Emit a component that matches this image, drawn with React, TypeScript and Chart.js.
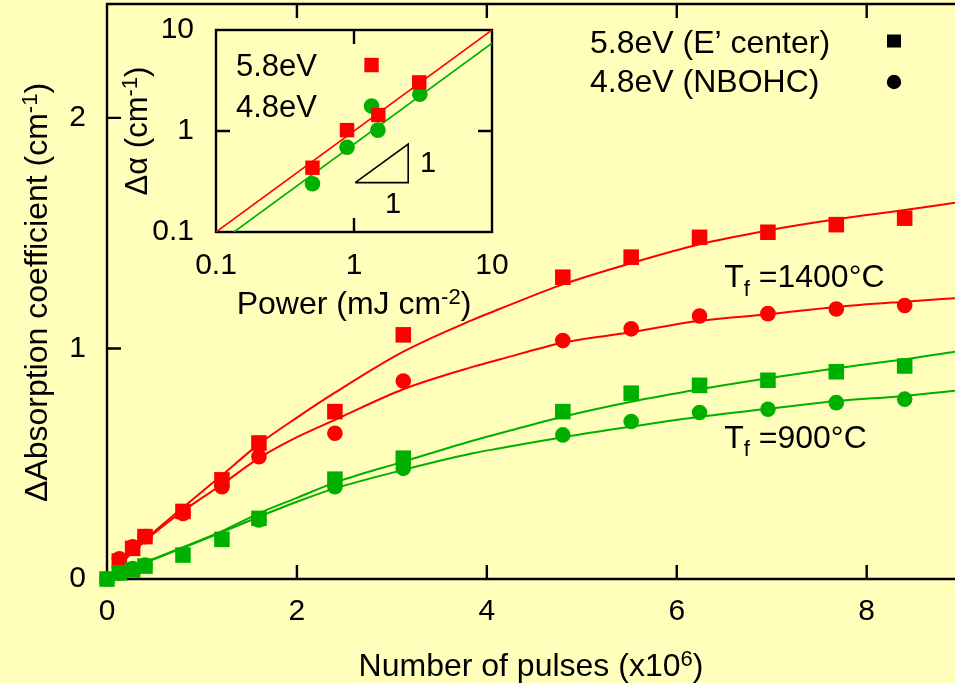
import React, { useEffect, useRef } from "react";
import { Chart, registerables } from "chart.js";
Chart.register(...registerables);

const BG = "#FFFFBB";
const RED = "#FF0000";
const GREEN = "#00B000";
const FONT = "'Liberation Sans', Arial, Helvetica, sans-serif";
const AXIS_W = 2.4;
const TICK = 14;
const LABEL_SIZE = 32;
const INSET_LABEL_SIZE = 31;

// ---------- main plot ----------
const X_MIN = 0;
const X_MAX = 8.93;
const Y_MIN = 0;
const Y_MAX = 2.494;
const xTicks = [0, 2, 4, 6, 8];
const yTicks = [0, 1, 2];

const redSqX = [0.13, 0.27, 0.4, 0.8, 1.21, 1.6, 2.4, 3.12, 4.8, 5.52, 6.24, 6.96, 7.68, 8.4];
const redSqY = [0.078, 0.133, 0.184, 0.293, 0.43, 0.59, 0.726, 1.059, 1.309, 1.396, 1.482, 1.504, 1.537, 1.565];

const redCirX = [0.13, 0.27, 0.4, 0.8, 1.21, 1.6, 2.4, 3.12, 4.8, 5.52, 6.24, 6.96, 7.68, 8.4];
const redCirY = [0.088, 0.14, 0.184, 0.284, 0.4, 0.53, 0.632, 0.859, 1.034, 1.085, 1.141, 1.151, 1.171, 1.186];

const greenSqX = [0, 0.13, 0.27, 0.4, 0.8, 1.21, 1.6, 2.4, 3.12, 4.8, 5.52, 6.24, 6.96, 7.68, 8.4];
const greenSqY = [0, 0.027, 0.039, 0.056, 0.104, 0.172, 0.263, 0.433, 0.524, 0.726, 0.806, 0.84, 0.862, 0.899, 0.924];

const greenCirX = [0, 0.13, 0.27, 0.4, 1.6, 2.4, 3.12, 4.8, 5.52, 6.24, 6.96, 7.68, 8.4];
const greenCirY = [0, 0.025, 0.045, 0.06, 0.256, 0.4, 0.48, 0.625, 0.683, 0.722, 0.736, 0.765, 0.78];

// fitted curves
const fitX = [0, 0.13, 0.4, 0.8, 1.21, 1.6, 2.0, 2.4, 3.12, 3.85, 4.14, 4.8, 5.52, 6.24, 6.96, 7.68, 8.4, 8.93];
const redSqFit = [0, 0.06, 0.17, 0.31, 0.45, 0.585, 0.7, 0.808, 0.986, 1.124, 1.172, 1.278, 1.37, 1.452, 1.512, 1.56, 1.6, 1.632];
const redCirFit = [0, 0.06, 0.165, 0.295, 0.41, 0.524, 0.615, 0.69, 0.823, 0.92, 0.953, 1.025, 1.07, 1.12, 1.148, 1.18, 1.203, 1.218];
const greenSqFit = [0, 0.025, 0.072, 0.138, 0.208, 0.285, 0.352, 0.418, 0.509, 0.6, 0.632, 0.704, 0.769, 0.823, 0.871, 0.914, 0.953, 0.986];
const greenCirFit = [0, 0.025, 0.07, 0.135, 0.203, 0.27, 0.335, 0.393, 0.473, 0.545, 0.567, 0.615, 0.661, 0.704, 0.738, 0.772, 0.794, 0.816];

// annotations on main plot
const tfX = [6.5, 6.5];
const tfY = [1.265, 0.568];
const tfText = ["1400°C", "900°C"];
const legendLabels = ["5.8eV (E’ center)", "4.8eV (NBOHC)"];

// ---------- inset ----------
const insetTicks = [0.1, 1, 10];
const insetTickLabels = ["0.1", "1", "10"];
const inRedX = [0.5, 0.89, 1.34, 1.5, 2.97];
const inRedY = [0.433, 1.02, 4.5, 1.44, 3.03];
const inGreenX = [0.5, 0.89, 1.34, 1.49, 3.0];
const inGreenY = [0.3, 0.69, 1.77, 1.02, 2.31];
const inRedFitX = [0.1, 10];
const inRedFitY = [0.1, 10];
const inGreenFitX = [0.135, 10];
const inGreenFitY = [0.1, 7.4];
const triX = [1.02, 2.47, 2.47, 1.02];
const triY = [0.308, 0.308, 0.743, 0.308];
const triLabelX = [3.44, 1.92];
const triLabelY = [0.393, 0.154];
const insetLabels = ["5.8eV", "4.8eV"];

type Seg = { t: string; s?: "sup" | "sub" };

const pts = (xs: number[], ys: number[]) => xs.map((x, i) => ({ x, y: ys[i] }));

function drawRich(ctx: CanvasRenderingContext2D, segs: Seg[], x: number, y: number, size: number, align: "left" | "center") {
  const small = Math.round(size * 0.7);
  const widths = segs.map((sg) => {
    ctx.font = `${sg.s ? small : size}px ${FONT}`;
    return ctx.measureText(sg.t).width;
  });
  const total = widths.reduce((a, b) => a + b, 0);
  let cx = align === "center" ? x - total / 2 : x;
  ctx.textAlign = "left";
  ctx.textBaseline = "alphabetic";
  ctx.fillStyle = "#000";
  segs.forEach((sg, i) => {
    ctx.font = `${sg.s ? small : size}px ${FONT}`;
    const dy = sg.s === "sup" ? -size * 0.32 : sg.s === "sub" ? size * 0.26 : 0;
    ctx.fillText(sg.t, cx, y + dy);
    cx += widths[i];
  });
}

const zeroPad = (s: any) => {
  s.paddingTop = 0;
  s.paddingBottom = 0;
  s.paddingLeft = 0;
  s.paddingRight = 0;
};

const mainDecor = {
  id: "mainDecor",
  beforeDatasetsDraw(chart: any) {
    const { ctx, chartArea: a, scales } = chart;
    const sx = scales.x;
    const sy = scales.y;
    ctx.save();
    ctx.strokeStyle = "#000";
    ctx.lineWidth = AXIS_W;
    ctx.beginPath();
    ctx.moveTo(a.left, a.top - 1);
    ctx.lineTo(a.left, a.bottom + 1);
    ctx.moveTo(a.left - 1, a.bottom);
    ctx.lineTo(a.right, a.bottom);
    ctx.moveTo(a.left - 1, a.top);
    ctx.lineTo(a.right, a.top);
    for (const v of xTicks) {
      const p = sx.getPixelForValue(v);
      ctx.moveTo(p, a.bottom);
      ctx.lineTo(p, a.bottom - TICK);
      ctx.moveTo(p, a.top);
      ctx.lineTo(p, a.top + TICK);
    }
    for (const v of yTicks) {
      const p = sy.getPixelForValue(v);
      ctx.moveTo(a.left, p);
      ctx.lineTo(a.left + TICK, p);
    }
    ctx.stroke();
    ctx.restore();
  },
  afterDraw(chart: any) {
    const { ctx, chartArea: a, scales } = chart;
    const sx = scales.x;
    const sy = scales.y;
    ctx.save();
    // x title
    drawRich(ctx, [{ t: "Number of pulses (x10" }, { t: "6", s: "sup" }, { t: ")" }], (a.left + a.right) / 2, a.bottom + 97, LABEL_SIZE, "center");
    // y title
    ctx.save();
    ctx.translate(47, (a.top + a.bottom) / 2 + 1);
    ctx.rotate(-Math.PI / 2);
    drawRich(ctx, [{ t: "ΔAbsorption coefficient (cm" }, { t: "-1", s: "sup" }, { t: ")" }], 0, 0, LABEL_SIZE, "center");
    ctx.restore();
    // T_f labels
    for (let i = 0; i < tfX.length; i++) {
      drawRich(ctx, [{ t: "T" }, { t: "f", s: "sub" }, { t: " =" + tfText[i] }], sx.getPixelForValue(tfX[i]), sy.getPixelForValue(tfY[i]), LABEL_SIZE, "left");
    }
    // legend
    drawRich(ctx, [{ t: legendLabels[0] }], 590, 53, LABEL_SIZE, "left");
    drawRich(ctx, [{ t: legendLabels[1] }], 590, 92, LABEL_SIZE, "left");
    ctx.fillStyle = "#000";
    ctx.fillRect(894 - 7, 41 - 6.5, 14, 13);
    ctx.beginPath();
    ctx.arc(894, 82, 7.2, 0, Math.PI * 2);
    ctx.fill();
    ctx.restore();
  },
};

const insetDecor = {
  id: "insetDecor",
  beforeDatasetsDraw(chart: any) {
    const { ctx, chartArea: a, scales } = chart;
    const sx = scales.x;
    const sy = scales.y;
    ctx.save();
    ctx.strokeStyle = "#000";
    ctx.lineWidth = AXIS_W;
    ctx.strokeRect(a.left, a.top, a.right - a.left, a.bottom - a.top);
    ctx.beginPath();
    const px = sx.getPixelForValue(1);
    ctx.moveTo(px, a.bottom);
    ctx.lineTo(px, a.bottom - TICK);
    ctx.moveTo(px, a.top);
    ctx.lineTo(px, a.top + TICK);
    const py = sy.getPixelForValue(1);
    ctx.moveTo(a.left, py);
    ctx.lineTo(a.left + TICK, py);
    ctx.moveTo(a.right, py);
    ctx.lineTo(a.right - TICK, py);
    ctx.stroke();
    ctx.restore();
  },
  afterDraw(chart: any) {
    const { ctx, chartArea: a, scales } = chart;
    const sx = scales.x;
    const sy = scales.y;
    ctx.save();
    drawRich(ctx, [{ t: "Power (mJ cm" }, { t: "-2", s: "sup" }, { t: ")" }], (a.left + a.right) / 2, a.bottom + 82, LABEL_SIZE, "center");
    ctx.save();
    ctx.translate(a.left - 69, (a.top + a.bottom) / 2);
    ctx.rotate(-Math.PI / 2);
    drawRich(ctx, [{ t: "Δα (cm" }, { t: "-1", s: "sup" }, { t: ")" }], 0, 0, INSET_LABEL_SIZE, "center");
    ctx.restore();
    drawRich(ctx, [{ t: insetLabels[0] }], a.left + 20, a.top + 46, INSET_LABEL_SIZE, "left");
    drawRich(ctx, [{ t: insetLabels[1] }], a.left + 20, a.top + 87, INSET_LABEL_SIZE, "left");
    ctx.font = `29px ${FONT}`;
    ctx.textAlign = "center";
    ctx.textBaseline = "alphabetic";
    ctx.fillStyle = "#000";
    for (let i = 0; i < triLabelX.length; i++) {
      ctx.fillText("1", sx.getPixelForValue(triLabelX[i]), sy.getPixelForValue(triLabelY[i]));
    }
    ctx.restore();
  },
};

const tickFont = { family: FONT, size: 30 };

export default function App() {
  const mainRef = useRef<HTMLCanvasElement>(null);
  const insetRef = useRef<HTMLCanvasElement>(null);

  useEffect(() => {
    const mainChart = new Chart(mainRef.current as HTMLCanvasElement, {
      type: "scatter",
      data: {
        datasets: [
          { data: pts(greenSqX, greenSqY), pointStyle: "rect", pointRadius: 11, pointBackgroundColor: GREEN, pointBorderWidth: 0, showLine: false, order: 0, clip: false } as any,
          { data: pts(redSqX, redSqY), pointStyle: "rect", pointRadius: 11, pointBackgroundColor: RED, pointBorderWidth: 0, showLine: false, order: 1, clip: false },
          { data: pts(greenCirX, greenCirY), pointStyle: "circle", pointRadius: 7.8, pointBackgroundColor: GREEN, pointBorderWidth: 0, showLine: false, order: 2, clip: false },
          { data: pts(redCirX, redCirY), pointStyle: "circle", pointRadius: 7.8, pointBackgroundColor: RED, pointBorderWidth: 0, showLine: false, order: 3, clip: false },
          { data: pts(fitX, redSqFit), showLine: true, borderColor: RED, borderWidth: 2, pointRadius: 0, cubicInterpolationMode: "monotone", order: 4 },
          { data: pts(fitX, redCirFit), showLine: true, borderColor: RED, borderWidth: 2, pointRadius: 0, cubicInterpolationMode: "monotone", order: 5 },
          { data: pts(fitX, greenSqFit), showLine: true, borderColor: GREEN, borderWidth: 2, pointRadius: 0, cubicInterpolationMode: "monotone", order: 6 },
          { data: pts(fitX, greenCirFit), showLine: true, borderColor: GREEN, borderWidth: 2, pointRadius: 0, cubicInterpolationMode: "monotone", order: 7 },
        ],
      },
      options: {
        responsive: false,
        animation: false,
        events: [],
        layout: { autoPadding: false, padding: { top: 4, left: 0, right: 0, bottom: 0 } },
        plugins: { legend: { display: false }, tooltip: { enabled: false } },
        scales: {
          x: {
            type: "linear",
            min: X_MIN,
            max: X_MAX,
            afterBuildTicks: (s: any) => {
              s.ticks = xTicks.map((v) => ({ value: v }));
            },
            afterFit: (s: any) => {
              s.height = 104;
              zeroPad(s);
            },
            grid: { display: false, drawTicks: false },
            border: { display: false },
            ticks: { padding: 15, color: "#000", font: tickFont, maxRotation: 0, autoSkip: false, callback: (v: any) => String(v) },
          },
          y: {
            type: "linear",
            min: Y_MIN,
            max: Y_MAX,
            afterBuildTicks: (s: any) => {
              s.ticks = yTicks.map((v) => ({ value: v }));
            },
            afterFit: (s: any) => {
              s.width = 107;
              zeroPad(s);
            },
            grid: { display: false, drawTicks: false },
            border: { display: false },
            ticks: { padding: 21, color: "#000", font: tickFont, autoSkip: false, callback: (v: any) => String(v) },
          },
        },
      } as any,
      plugins: [mainDecor],
    });

    const insetChart = new Chart(insetRef.current as HTMLCanvasElement, {
      type: "scatter",
      data: {
        datasets: [
          { data: pts(inRedX, inRedY), pointStyle: "rect", pointRadius: 10.2, pointBackgroundColor: RED, pointBorderWidth: 0, showLine: false, order: 0, clip: false } as any,
          { data: pts(inGreenX, inGreenY), pointStyle: "circle", pointRadius: 7.8, pointBackgroundColor: GREEN, pointBorderWidth: 0, showLine: false, order: 1, clip: false },
          { data: pts(inRedFitX, inRedFitY), showLine: true, borderColor: RED, borderWidth: 1.6, pointRadius: 0, order: 2 },
          { data: pts(inGreenFitX, inGreenFitY), showLine: true, borderColor: GREEN, borderWidth: 1.6, pointRadius: 0, order: 3 },
          { data: pts(triX, triY), showLine: true, borderColor: "#000", borderWidth: 1.6, pointRadius: 0, order: 4 },
        ],
      },
      options: {
        responsive: false,
        animation: false,
        events: [],
        layout: { autoPadding: false, padding: { top: 30, left: 0, right: 463, bottom: 0 } },
        plugins: { legend: { display: false }, tooltip: { enabled: false } },
        scales: {
          x: {
            type: "logarithmic",
            min: 0.1,
            max: 10,
            afterBuildTicks: (s: any) => {
              s.ticks = insetTicks.map((v) => ({ value: v }));
            },
            afterFit: (s: any) => {
              s.height = 451;
              zeroPad(s);
            },
            grid: { display: false, drawTicks: false },
            border: { display: false },
            ticks: {
              padding: 16,
              color: "#000",
              font: tickFont,
              maxRotation: 0,
              autoSkip: false,
              callback: (v: any) => insetTickLabels[insetTicks.indexOf(v)] ?? String(v),
            },
          },
          y: {
            type: "logarithmic",
            min: 0.1,
            max: 10,
            afterBuildTicks: (s: any) => {
              s.ticks = insetTicks.map((v) => ({ value: v }));
            },
            afterFit: (s: any) => {
              s.width = 216;
              zeroPad(s);
            },
            grid: { display: false, drawTicks: false },
            border: { display: false },
            ticks: {
              padding: 22,
              color: "#000",
              font: tickFont,
              autoSkip: false,
              callback: (v: any) => insetTickLabels[insetTicks.indexOf(v)] ?? String(v),
            },
          },
        },
      } as any,
      plugins: [insetDecor],
    });

    return () => {
      mainChart.destroy();
      insetChart.destroy();
    };
  }, []);

  return (
    <div style={{ position: "fixed", left: 0, top: 0, width: 955, height: 683, background: BG, overflow: "hidden" }}>
      <canvas ref={mainRef} width={955} height={683} style={{ position: "absolute", left: 0, top: 0, width: 955, height: 683 }} />
      <canvas ref={insetRef} width={955} height={683} style={{ position: "absolute", left: 0, top: 0, width: 955, height: 683 }} />
    </div>
  );
}
